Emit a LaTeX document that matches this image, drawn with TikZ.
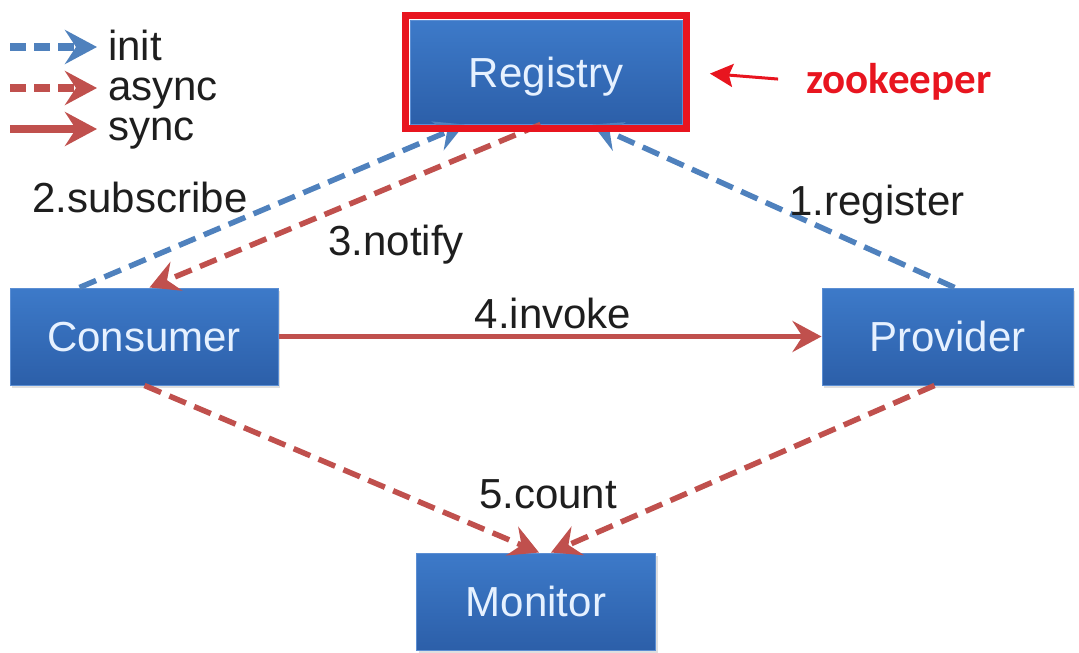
\documentclass[tikz,border=0pt]{standalone}
\usepackage{fontspec}
\setmainfont{Liberation Sans}
\newfontfamily\zkfont{Carlito}
\usetikzlibrary{arrows.meta,calc,shadows}
\definecolor{lblue}{HTML}{4F81BD}
\definecolor{lred}{HTML}{C0504D}
\definecolor{zred}{HTML}{E8151F}
\definecolor{boxtop}{HTML}{3D7AC9}
\definecolor{boxbot}{HTML}{2C5FA9}
\definecolor{boxedge}{HTML}{5B8ED3}
\definecolor{boxtext}{HTML}{E6F1FF}
\definecolor{txt}{HTML}{1E1E1E}
\begin{document}
\begin{tikzpicture}[x=1pt,y=-1pt,
  box/.style={shade, top color=boxtop, bottom color=boxbot, draw=boxedge, line width=1pt,
    text=boxtext, font=\fontsize{42}{48}\selectfont, text height=30pt, text depth=0pt,
    inner sep=0pt, drop shadow={opacity=0.25, shadow xshift=2pt, shadow yshift=-3pt}},
  lbl/.style={text=txt, font=\fontsize{42}{48}\selectfont, inner sep=0pt, anchor=base},
  tipd/.tip={Stealth[length=29pt,width=31pt,inset=10pt]},
  tipl/.tip={Stealth[length=32pt,width=34pt,inset=11pt]},
  initline/.style={draw=lblue, line width=5.5pt, dash pattern=on 18pt off 9pt, -tipd},
  asyncline/.style={draw=lred, line width=5.5pt, dash pattern=on 18pt off 9pt, -tipd},
  syncline/.style={draw=lred, line width=5.5pt, -tipd},
  leginit/.style={draw=lblue, line width=7.5pt, dash pattern=on 16pt off 8pt, -tipl},
  legasync/.style={draw=lred, line width=7.5pt, dash pattern=on 16pt off 8pt, -tipl},
  legsync/.style={draw=lred, line width=7.5pt, -tipl},
  legtext/.style={text=txt, font=\fontsize{42}{48}\selectfont, inner sep=0pt, anchor=base west}
]
\useasboundingbox (0,0) rectangle (1079,653);

% boxes
\node[box, minimum width=272pt, minimum height=104pt] (reg) at (546,72) {Registry};
\node[box, minimum width=268pt, minimum height=97pt] (cons) at (144,336.5) {Consumer};
\node[box, minimum width=251pt, minimum height=97pt] (prov) at (947.5,336.5) {Provider};
\node[box, minimum width=239pt, minimum height=97pt] (mon) at (536,601.5) {Monitor};

% connectors
\draw[initline] ([xshift=70pt]cons.north west) -- ([xshift=55pt]reg.south west);
\draw[asyncline] ([xshift=131pt]reg.south west) -- ([xshift=140pt]cons.north west);
\draw[initline] ([xshift=133pt]prov.north west) -- ([xshift=-90pt]reg.south east);
\draw[syncline] (cons.east) -- (prov.west);
\draw[asyncline] ([xshift=135pt]cons.south west) -- ([xshift=123pt]mon.north west);
\draw[asyncline] ([xshift=113pt]prov.south west) -- ([xshift=135pt]mon.north west);

% frame
\node[draw=zred, line width=7pt, minimum width=281pt, minimum height=113pt, inner sep=0pt] (frame) at (reg.center) {};

% zookeeper
\node[anchor=base west, inner sep=0pt, text=zred, font=\zkfont\bfseries\fontsize{43}{50}\selectfont] (zk) at (806,93) {zookeeper};
\draw[draw=zred, line width=3pt, -{Stealth[length=23pt,width=23pt,inset=4pt]}, shorten <=28pt, shorten >=20pt]
  (zk.west) -- (frame.east);

% labels
\node[lbl] (l2) at (140,212) {2.subscribe};
\node[lbl] (l3) at (396,255) {3.notify};
\node[lbl] (l1) at (877,215) {1.register};
\node[lbl] (l4) at (553,328) {4.invoke};
\node[lbl] (l5) at (548,508) {5.count};

% legend
\coordinate (a1) at (10,47); \coordinate (b1) at (97,47);
\coordinate (a2) at (10,88); \coordinate (b2) at (97,88);
\coordinate (a3) at (10,129); \coordinate (b3) at (97,129);
\draw[leginit] (a1) -- (b1);
\draw[legasync] (a2) -- (b2);
\draw[legsync] (a3) -- (b3);
\node[legtext] (t1) at (108,60) {init};
\node[legtext] (t2) at (108,100) {async};
\node[legtext] (t3) at (108,140) {sync};
\end{tikzpicture}
\end{document}
